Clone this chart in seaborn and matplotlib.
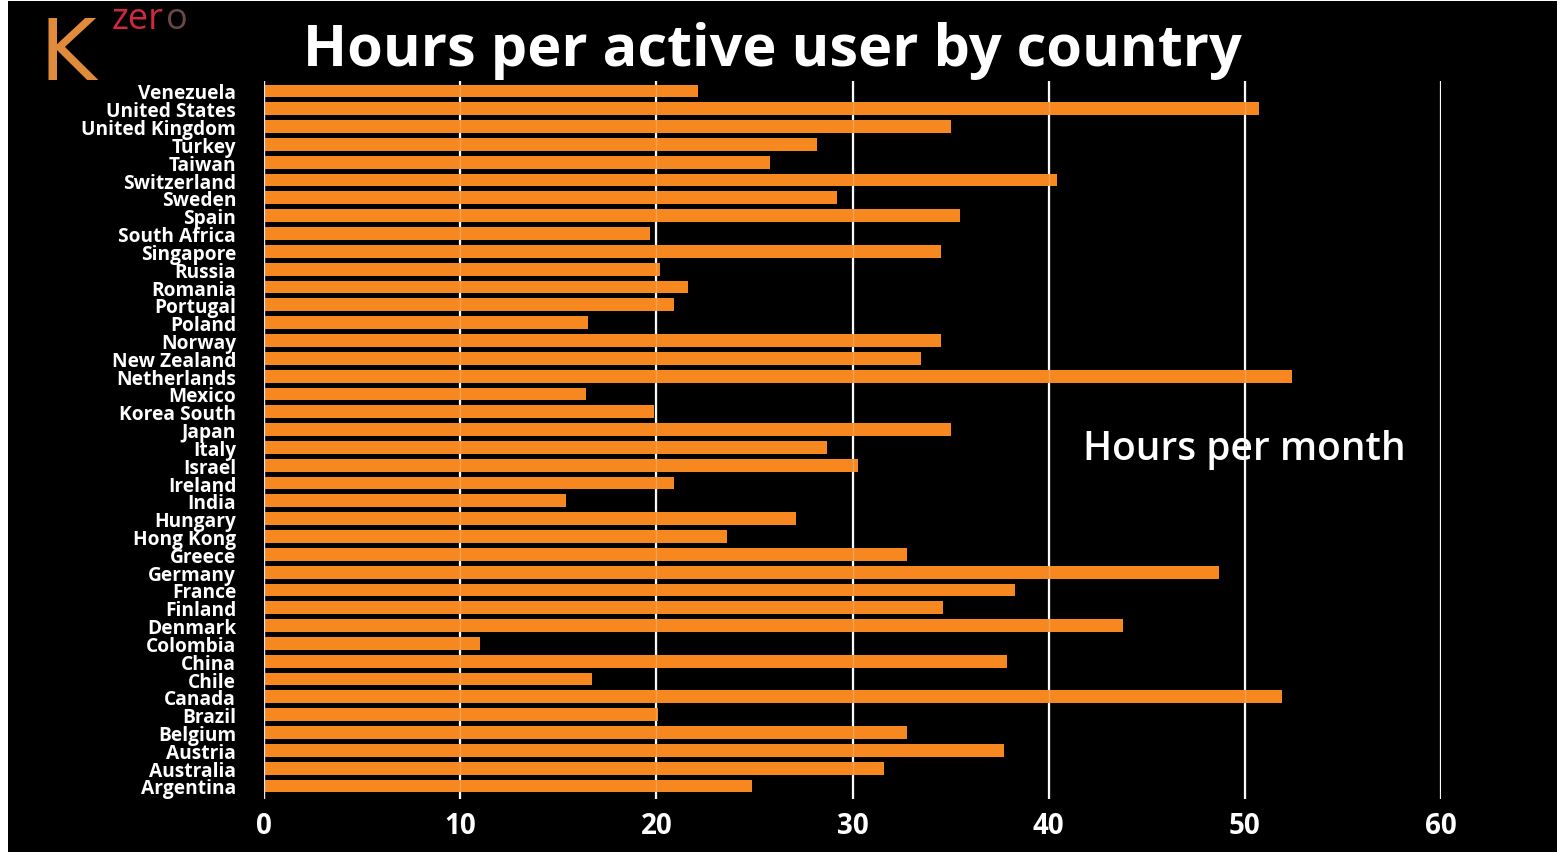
import matplotlib
matplotlib.use("Agg")
import matplotlib.pyplot as plt
from matplotlib.patches import Rectangle
import seaborn as sns
import pandas as pd

countries = [
    "Venezuela", "United States", "United Kingdom", "Turkey", "Taiwan",
    "Switzerland", "Sweden", "Spain", "South Africa", "Singapore",
    "Russia", "Romania", "Portugal", "Poland", "Norway",
    "New Zealand", "Netherlands", "Mexico", "Korea South", "Japan",
    "Italy", "Israel", "Ireland", "India", "Hungary",
    "Hong Kong", "Greece", "Germany", "France", "Finland",
    "Denmark", "Colombia", "China", "Chile", "Canada",
    "Brazil", "Belgium", "Austria", "Australia", "Argentina",
]
hours = [
    22.1, 50.7, 35.0, 28.2, 25.8,
    40.4, 29.2, 35.5, 19.7, 34.5,
    20.2, 21.6, 20.9, 16.5, 34.5,
    33.5, 52.4, 16.4, 19.9, 35.0,
    28.7, 30.3, 20.9, 15.4, 27.1,
    23.6, 32.8, 48.7, 38.3, 34.6,
    43.8, 11.0, 37.9, 16.7, 51.9,
    20.1, 32.8, 37.7, 31.6, 24.9,
]
x_ticks = [0, 10, 20, 30, 40, 50, 60]

df = pd.DataFrame({"country": countries, "hours": hours})

sns.set_theme(style="dark")
plt.rcParams["font.family"] = ["Open Sans", "DejaVu Sans"]

ORANGE = "#F7881F"

fig = plt.figure(figsize=(15.63, 8.53), dpi=100, facecolor="white")
# black slide area inside a thin white frame
fig.patches.append(Rectangle((8 / 1563, 0), 1549 / 1563, 851 / 853,
                             transform=fig.transFigure, facecolor="black",
                             edgecolor="none", zorder=-10))

ax = fig.add_axes([264 / 1563, 53 / 853, 1177 / 1563, 718 / 853])
ax.set_facecolor("black")

sns.barplot(data=df, x="hours", y="country", orient="h", color=ORANGE,
            saturation=1, width=0.72, ax=ax, zorder=2,
            edgecolor="none", linewidth=0)

ax.set_xlim(0, 60)
ax.set_ylim(len(countries) - 1 + 0.73, -0.56)
ax.set_xticks(x_ticks)
ax.set_xticklabels([str(t) for t in x_ticks])
ax.set_xlabel("")
ax.set_ylabel("")

# vertical grid: white behind the bars, faint where it crosses them
ax.grid(False)
for t in x_ticks:
    ax.axvline(t, color="white", lw=1.6, zorder=1)
    if t > 0:
        ax.axvline(t, color="#dddddd", lw=1.0, alpha=0.3, zorder=3)
ax.axvline(0, color="#e8e8e8", lw=1.6, zorder=3)

for s in ax.spines.values():
    s.set_visible(False)

ax.tick_params(axis="x", length=0, pad=9, labelsize=20, labelcolor="white")
ax.tick_params(axis="y", length=0, pad=20, labelsize=13.8, labelcolor="white")
for lab in ax.get_xticklabels():
    lab.set_fontweight("bold")
for lab in ax.get_yticklabels():
    lab.set_fontweight("bold")

fig.text(772 / 1563, 1 - 51 / 853, "Hours per active user by country",
         color="white", fontsize=41.5, fontweight="bold",
         ha="center", va="center")

ax.text((1083 - 264) / 1177, 0.487, "Hours per month", transform=ax.transAxes,
        color="white", fontsize=28, fontweight="semibold",
        ha="left", va="center", zorder=4)

# logo
fig.text(40 / 1563, 1 - 80 / 853, "K", color="#E08A3C", fontsize=62,
         family=["DejaVu Sans"], fontweight="normal", ha="left", va="baseline")
fig.text(112 / 1563, 1 - 29 / 853, "zer", color="#D0283F", fontsize=26,
         fontweight="normal", ha="left", va="baseline")
fig.text(166 / 1563, 1 - 29 / 853, "o", color="#6a4848", fontsize=26,
         fontweight="normal", ha="left", va="baseline")

fig.savefig("out.png", dpi=100, facecolor=fig.get_facecolor())
